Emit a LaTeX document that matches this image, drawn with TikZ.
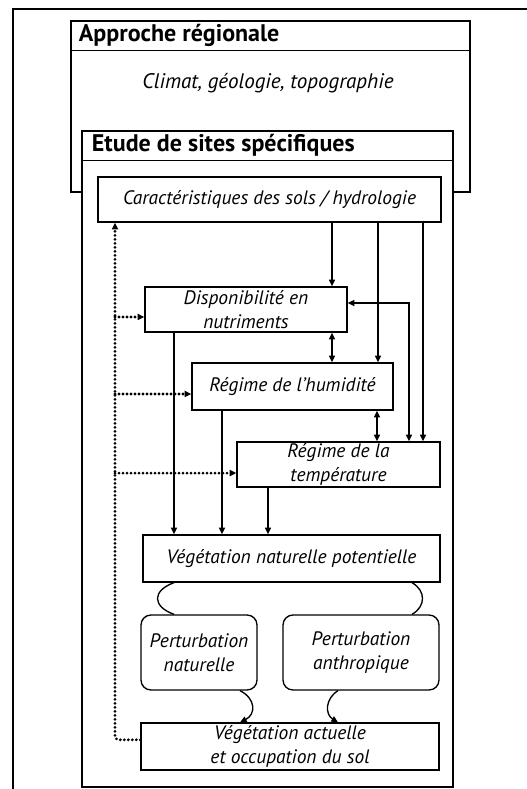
\documentclass[tikz,border=0pt]{standalone}
\usepackage{fontspec}
\setmainfont{PT Sans}
\usetikzlibrary{arrows.meta}

\begin{document}
\begin{tikzpicture}[x=0.75pt, y=-0.75pt, line width=1pt, >={Triangle[length=5pt,width=4.5pt]},
  box/.style={draw, fill=white, inner sep=0pt, align=center, font=\itshape\fontsize{14.6}{18}\selectfont},
  rbox/.style={box, rounded corners=7.5pt},
  areabox/.style={draw, fill=white, line width=1.1pt},
  head/.style={anchor=west, inner sep=0pt, font=\bfseries\fontsize{18}{20}\selectfont},
  dotarr/.style={->, line width=2.3pt, line cap=round, dash pattern=on 0pt off 3pt}]
  \useasboundingbox (0,0) rectangle (526,789);
  % outer frame
  \draw[line width=2.2pt] (13,800) -- (13,9) -- (540,9);
  % regional level
  \node[areabox, minimum width=299.25pt, minimum height=128.25pt] (appro) at (270.5,106.5) {};
  \node[head] (approtitle) at ([xshift=6pt,yshift=-11.25pt]appro.north west) {Approche régionale};
  \draw ([yshift=-22.5pt]appro.north west) -- ([yshift=-22.5pt]appro.north east);
  \node[font=\itshape\fontsize{15.8}{18}\selectfont] (climat) at (268,83) {Climat, géologie, topographie};
  % site level
  \node[areabox, minimum width=278.25pt, minimum height=492pt] (etude) at (267.5,459) {};
  \node[head] (etudetitle) at ([xshift=7.5pt,yshift=-11.25pt]etude.north west) {Etude de sites spécifiques};
  \draw ([yshift=-22.5pt]etude.north west) -- ([yshift=-22.5pt]etude.north east);
  % boxes
  \node[box, minimum width=257.25pt, minimum height=33.75pt] (carac) at (269.5,199.5) {Caractéristiques des sols / hydrologie};
  \node[box, minimum width=151.5pt, minimum height=33.75pt] (dispo) at (246,309.5) {Disponibilité en\\nutriments};
  \node[box, minimum width=150.75pt, minimum height=35.25pt] (humid) at (292.5,386.5) {Régime de l’humidité};
  \node[box, minimum width=152.25pt, minimum height=33.75pt] (temp) at (338.5,464.5) {Régime de la\\température};
  \node[box, minimum width=222.75pt, minimum height=35.25pt] (vnp) at (291.5,558.5) {Végétation naturelle potentielle};
  \node[rbox, minimum width=87pt, minimum height=56.25pt] (pnat) at (199,652.5) {Perturbation\\naturelle};
  \node[rbox, minimum width=117pt, minimum height=56.25pt] (panth) at (361,652.5) {Perturbation\\anthropique};
  \node[box, minimum width=223.5pt, minimum height=35.25pt] (vact) at (290,746.5) {Végétation actuelle\\et occupation du sol};
  % connector columns
  \coordinate (xa) at (332,0);
  \coordinate (xb) at (378,0);
  \coordinate (xc) at (423,0);
  \coordinate (xd) at (409,0);
  \coordinate (xe) at (377,0);
  \coordinate (xf) at (174,0);
  \coordinate (xg) at (222,0);
  \coordinate (xh) at (268,0);
  \coordinate (xr) at (412,0);
  \coordinate (xs) at (240,0);
  \coordinate (xt) at (338,0);
  \coordinate (xdot) at (115,0);
  % solid arrows
  \draw[->] (carac.south -| xa) -- (dispo.north -| xa);
  \draw[->] (carac.south -| xb) -- (humid.north -| xb);
  \draw[->] (carac.south -| xc) -- (temp.north -| xc);
  \draw[<->] (dispo.south -| xa) -- (humid.north -| xa);
  \draw[<->] (humid.south -| xe) -- (temp.north -| xe);
  \draw[<->] ([yshift=4.9pt]dispo.east) -| (temp.north -| xd);
  \draw[->] (dispo.south -| xf) -- (vnp.north -| xf);
  \draw[->] (humid.south -| xg) -- (vnp.north -| xg);
  \draw[->] (temp.south -| xh) -- (vnp.north -| xh);
  % curly links
  \draw (vnp.south -| xf) .. controls +(-22,8) and +(-22,-8) .. (pnat.north -| xf);
  \draw (vnp.south -| xr) .. controls +(14,8) and +(14,-8) .. (panth.north -| xr);
  \draw[->] (pnat.south -| xs) .. controls +(16,8) and +(16,-8) .. (vact.north -| xs);
  \draw[->] (panth.south -| xt) .. controls +(-13,8) and +(-13,-8) .. (vact.north -| xt);
  % feedback
  \draw[dotarr, rounded corners=3pt] ([yshift=5pt]vact.west) -| (carac.south -| xdot);
  \draw[dotarr] ([yshift=-5.6pt]dispo.west -| xdot) -- ([yshift=-5.6pt]dispo.west);
  \draw[dotarr] ([yshift=-5.6pt]humid.west -| xdot) -- ([yshift=-5.6pt]humid.west);
  \draw[dotarr] ([yshift=-6.4pt]temp.west -| xdot) -- ([yshift=-6.4pt]temp.west);
\end{tikzpicture}
\end{document}
